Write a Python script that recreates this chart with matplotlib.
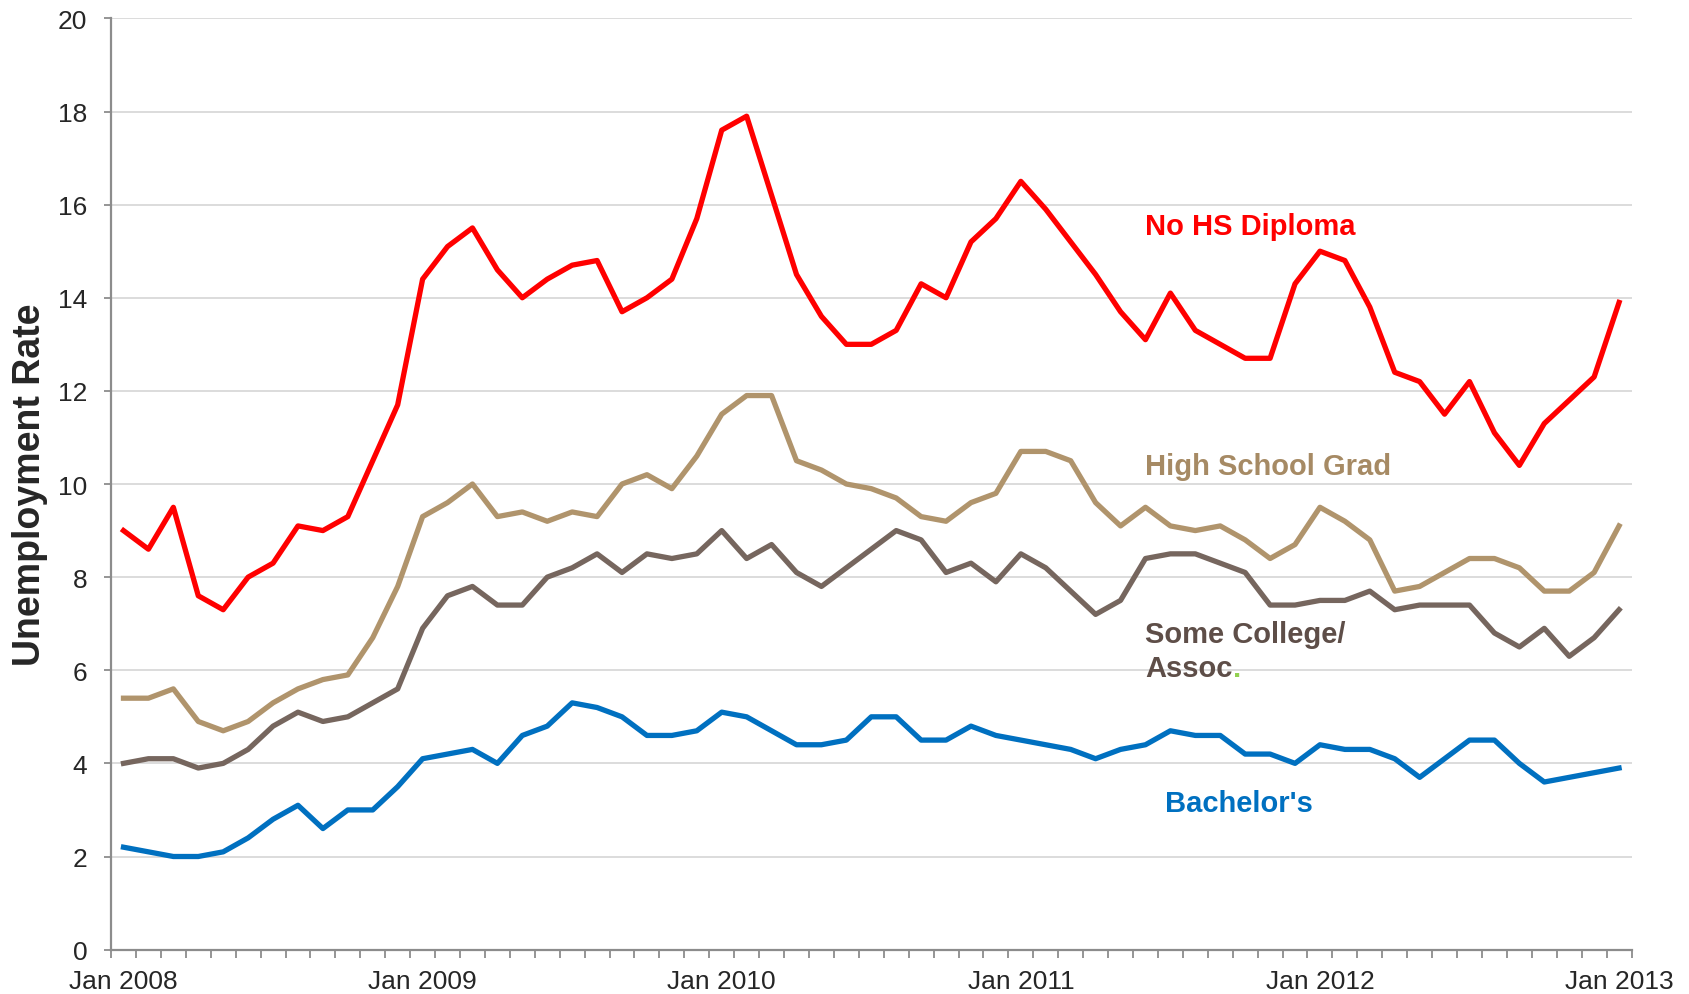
import numpy as np
import matplotlib
matplotlib.use("Agg")
import matplotlib.pyplot as plt

plt.rcParams["font.family"] = ["Liberation Sans", "DejaVu Sans"]

# monatliche Werte Jan 2008 - Jan 2013
months = np.arange(61)
tick_pos = [0, 12, 24, 36, 48, 60]
tick_labels = ["Jan 2008", "Jan 2009", "Jan 2010", "Jan 2011", "Jan 2012", "Jan 2013"]

no_hs = [9.0, 8.6, 9.5, 7.6, 7.3, 8.0, 8.3, 9.1, 9.0, 9.3, 10.5, 11.7,
         14.4, 15.1, 15.5, 14.6, 14.0, 14.4, 14.7, 14.8, 13.7, 14.0, 14.4, 15.7,
         17.6, 17.9, 16.2, 14.5, 13.6, 13.0, 13.0, 13.3, 14.3, 14.0, 15.2, 15.7,
         16.5, 15.9, 15.2, 14.5, 13.7, 13.1, 14.1, 13.3, 13.0, 12.7, 12.7, 14.3,
         15.0, 14.8, 13.8, 12.4, 12.2, 11.5, 12.2, 11.1, 10.4, 11.3, 11.8, 12.3,
         13.9]
hs_grad = [5.4, 5.4, 5.6, 4.9, 4.7, 4.9, 5.3, 5.6, 5.8, 5.9, 6.7, 7.8,
           9.3, 9.6, 10.0, 9.3, 9.4, 9.2, 9.4, 9.3, 10.0, 10.2, 9.9, 10.6,
           11.5, 11.9, 11.9, 10.5, 10.3, 10.0, 9.9, 9.7, 9.3, 9.2, 9.6, 9.8,
           10.7, 10.7, 10.5, 9.6, 9.1, 9.5, 9.1, 9.0, 9.1, 8.8, 8.4, 8.7,
           9.5, 9.2, 8.8, 7.7, 7.8, 8.1, 8.4, 8.4, 8.2, 7.7, 7.7, 8.1,
           9.1]
some_college = [4.0, 4.1, 4.1, 3.9, 4.0, 4.3, 4.8, 5.1, 4.9, 5.0, 5.3, 5.6,
                6.9, 7.6, 7.8, 7.4, 7.4, 8.0, 8.2, 8.5, 8.1, 8.5, 8.4, 8.5,
                9.0, 8.4, 8.7, 8.1, 7.8, 8.2, 8.6, 9.0, 8.8, 8.1, 8.3, 7.9,
                8.5, 8.2, 7.7, 7.2, 7.5, 8.4, 8.5, 8.5, 8.3, 8.1, 7.4, 7.4,
                7.5, 7.5, 7.7, 7.3, 7.4, 7.4, 7.4, 6.8, 6.5, 6.9, 6.3, 6.7,
                7.3]
bachelors = [2.2, 2.1, 2.0, 2.0, 2.1, 2.4, 2.8, 3.1, 2.6, 3.0, 3.0, 3.5,
             4.1, 4.2, 4.3, 4.0, 4.6, 4.8, 5.3, 5.2, 5.0, 4.6, 4.6, 4.7,
             5.1, 5.0, 4.7, 4.4, 4.4, 4.5, 5.0, 5.0, 4.5, 4.5, 4.8, 4.6,
             4.5, 4.4, 4.3, 4.1, 4.3, 4.4, 4.7, 4.6, 4.6, 4.2, 4.2, 4.0,
             4.4, 4.3, 4.3, 4.1, 3.7, 4.1, 4.5, 4.5, 4.0, 3.6, 3.7, 3.8,
             3.9]

fig = plt.figure(figsize=(16.9, 9.95), dpi=100)
ax = fig.add_axes([0.0657, 0.0446, 0.8997, 0.9359])

lw = 3.8
ax.plot(months, no_hs, color="#FF0000", lw=lw, zorder=3)
ax.plot(months, hs_grad, color="#B0946C", lw=lw, zorder=3)
ax.plot(months, some_college, color="#76665E", lw=lw, zorder=3)
ax.plot(months, bachelors, color="#0070C0", lw=lw, zorder=3)

# Beschriftungen direkt an den Linien
fs = 21
ax.text(41.0, 15.37, "No HS Diploma", color="#FF0000", fontsize=fs, fontweight="bold", va="baseline")
ax.text(41.0, 10.21, "High School Grad", color="#A68A64", fontsize=fs, fontweight="bold", va="baseline")
ax.text(41.0, 6.6, "Some College/", color="#5E4E48", fontsize=fs, fontweight="bold", va="baseline")
assoc = ax.text(41.0, 5.88, "Assoc", color="#5E4E48", fontsize=fs, fontweight="bold", va="baseline")
ax.annotate(".", xy=(1, 0), xycoords=assoc, ha="left", va="bottom",
            color="#92D050", fontsize=fs, fontweight="bold")
ax.text(41.8, 2.98, "Bachelor's", color="#0070C0", fontsize=fs, fontweight="bold", va="baseline")

ax.set_xlim(-0.5, 60.5)
ax.set_ylim(0, 20)
ax.set_yticks(np.arange(0, 21, 2))
ax.set_xticks(tick_pos)
ax.set_xticklabels(tick_labels)
ax.set_xticks(np.arange(-0.5, 61, 1), minor=True)

ax.yaxis.grid(True, color="#D9D9D9", lw=1.3)
ax.set_axisbelow(True)
for s in ["top", "right"]:
    ax.spines[s].set_visible(False)
for s in ["left", "bottom"]:
    ax.spines[s].set_color("#8C8C8C")
    ax.spines[s].set_linewidth(1.6)

ax.tick_params(axis="x", which="major", length=0, pad=14, labelsize=19, labelcolor="#262626")
ax.tick_params(axis="x", which="minor", length=6, width=1.3, color="#8C8C8C", direction="out")
ax.tick_params(axis="y", length=5, width=1.3, color="#8C8C8C", pad=12, labelsize=19, labelcolor="#262626")

ax.set_ylabel("Unemployment Rate", fontsize=27, fontweight="bold", color="#262626", labelpad=7)

fig.savefig("out.png", dpi=100)
